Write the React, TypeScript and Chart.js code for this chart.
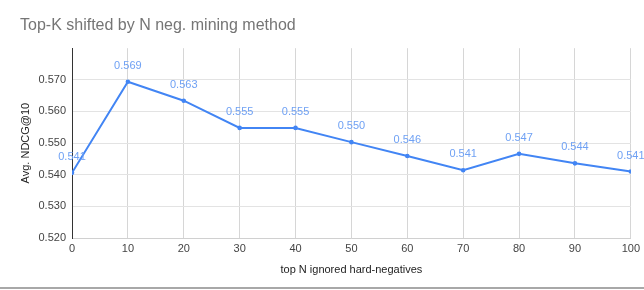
import React, { useEffect, useRef } from "react";
import { Chart, registerables } from "chart.js";

Chart.register(...registerables);

const xValues = [0, 10, 20, 30, 40, 50, 60, 70, 80, 90, 100];
const ndcgValues = [0.5406, 0.5694, 0.5634, 0.5548, 0.5548, 0.5503, 0.5459, 0.5414, 0.5466, 0.5436, 0.541];
const titleText = "Top-K shifted by N neg. mining method";
const xTitle = "top N ignored hard-negatives";
const yTitle = "Avg. NDCG@10";

const FONT = "Arial, 'Liberation Sans', sans-serif";

const labelPlugin = {
  id: "pointLabels",
  afterDatasetsDraw(chart: any) {
    const ctx = chart.ctx;
    const meta = chart.getDatasetMeta(0);
    ctx.save();
    ctx.font = `11px ${FONT}`;
    ctx.fillStyle = "#6fa1f4";
    ctx.textAlign = "center";
    ctx.textBaseline = "middle";
    meta.data.forEach((pt: any, i: number) => {
      ctx.fillText(ndcgValues[i].toFixed(3), pt.x, pt.y - 16);
    });
    ctx.restore();
  },
  afterDraw(chart: any) {
    const ctx = chart.ctx;
    ctx.save();
    ctx.strokeStyle = "#a8a8a8";
    ctx.lineWidth = 2;
    ctx.beginPath();
    ctx.moveTo(0, 288);
    ctx.lineTo(chart.width, 288);
    ctx.stroke();
    ctx.restore();
  },
};

export default function App() {
  const ref = useRef<HTMLCanvasElement | null>(null);
  useEffect(() => {
    document.body.style.margin = "0";
    if (!ref.current) return;
    const chart = new Chart(ref.current, {
      type: "line",
      data: {
        datasets: [
          {
            data: xValues.map((x, i) => ({ x, y: ndcgValues[i] })),
            borderColor: "#4285f4",
            backgroundColor: "#4285f4",
            borderWidth: 2,
            pointRadius: 1.3,
            pointHoverRadius: 1.3,
            tension: 0,
          },
        ],
      },
      options: {
        animation: false,
        responsive: false,
        maintainAspectRatio: false,
        layout: { padding: { left: 20, right: 12, top: 0, bottom: 0 } },
        plugins: {
          legend: { display: false },
          tooltip: { enabled: false },
          title: {
            display: true,
            text: titleText,
            align: "start",
            color: "#757575",
            font: { family: FONT, size: 16, weight: "normal" },
            padding: { top: 16, bottom: 13 },
          },
        },
        scales: {
          x: {
            type: "linear",
            min: 0,
            max: 100,
            ticks: {
              stepSize: 10,
              color: "#444",
              font: { family: FONT, size: 11 },
              padding: 4,
              maxRotation: 0,
            },
            grid: { color: "#d6d6d6", drawTicks: false },
            border: { color: "#d0d0d0" },
            title: {
              display: true,
              text: xTitle,
              color: "#222",
              font: { family: FONT, size: 11 },
              padding: { top: 0, bottom: 13 },
            },
            afterFit(scale: any) {
              scale.height = 52;
            },
          },
          y: {
            min: 0.52,
            max: 0.58,
            ticks: {
              stepSize: 0.01,
              color: "#444",
              font: { family: FONT, size: 11 },
              padding: 6,
              callback: (v: any) => (Number(v) > 0.5795 ? "" : Number(v).toFixed(3)),
            },
            grid: {
              drawTicks: false,
              color: (c: any) => (c.tick && c.tick.value > 0.5795 ? "rgba(0,0,0,0)" : "#e3e3e3"),
            },
            border: { color: "#333", width: 1 },
            title: {
              display: true,
              text: yTitle,
              color: "#222",
              font: { family: FONT, size: 11 },
              padding: { top: -1, bottom: 0 },
            },
            afterFit(scale: any) {
              scale.width = 52;
            },
          },
        },
      },
      plugins: [labelPlugin],
    });
    return () => chart.destroy();
  }, []);
  return (
    <div style={{ width: 644, height: 290 }}>
      <canvas ref={ref} width={644} height={290} style={{ display: "block" }} />
    </div>
  );
}
